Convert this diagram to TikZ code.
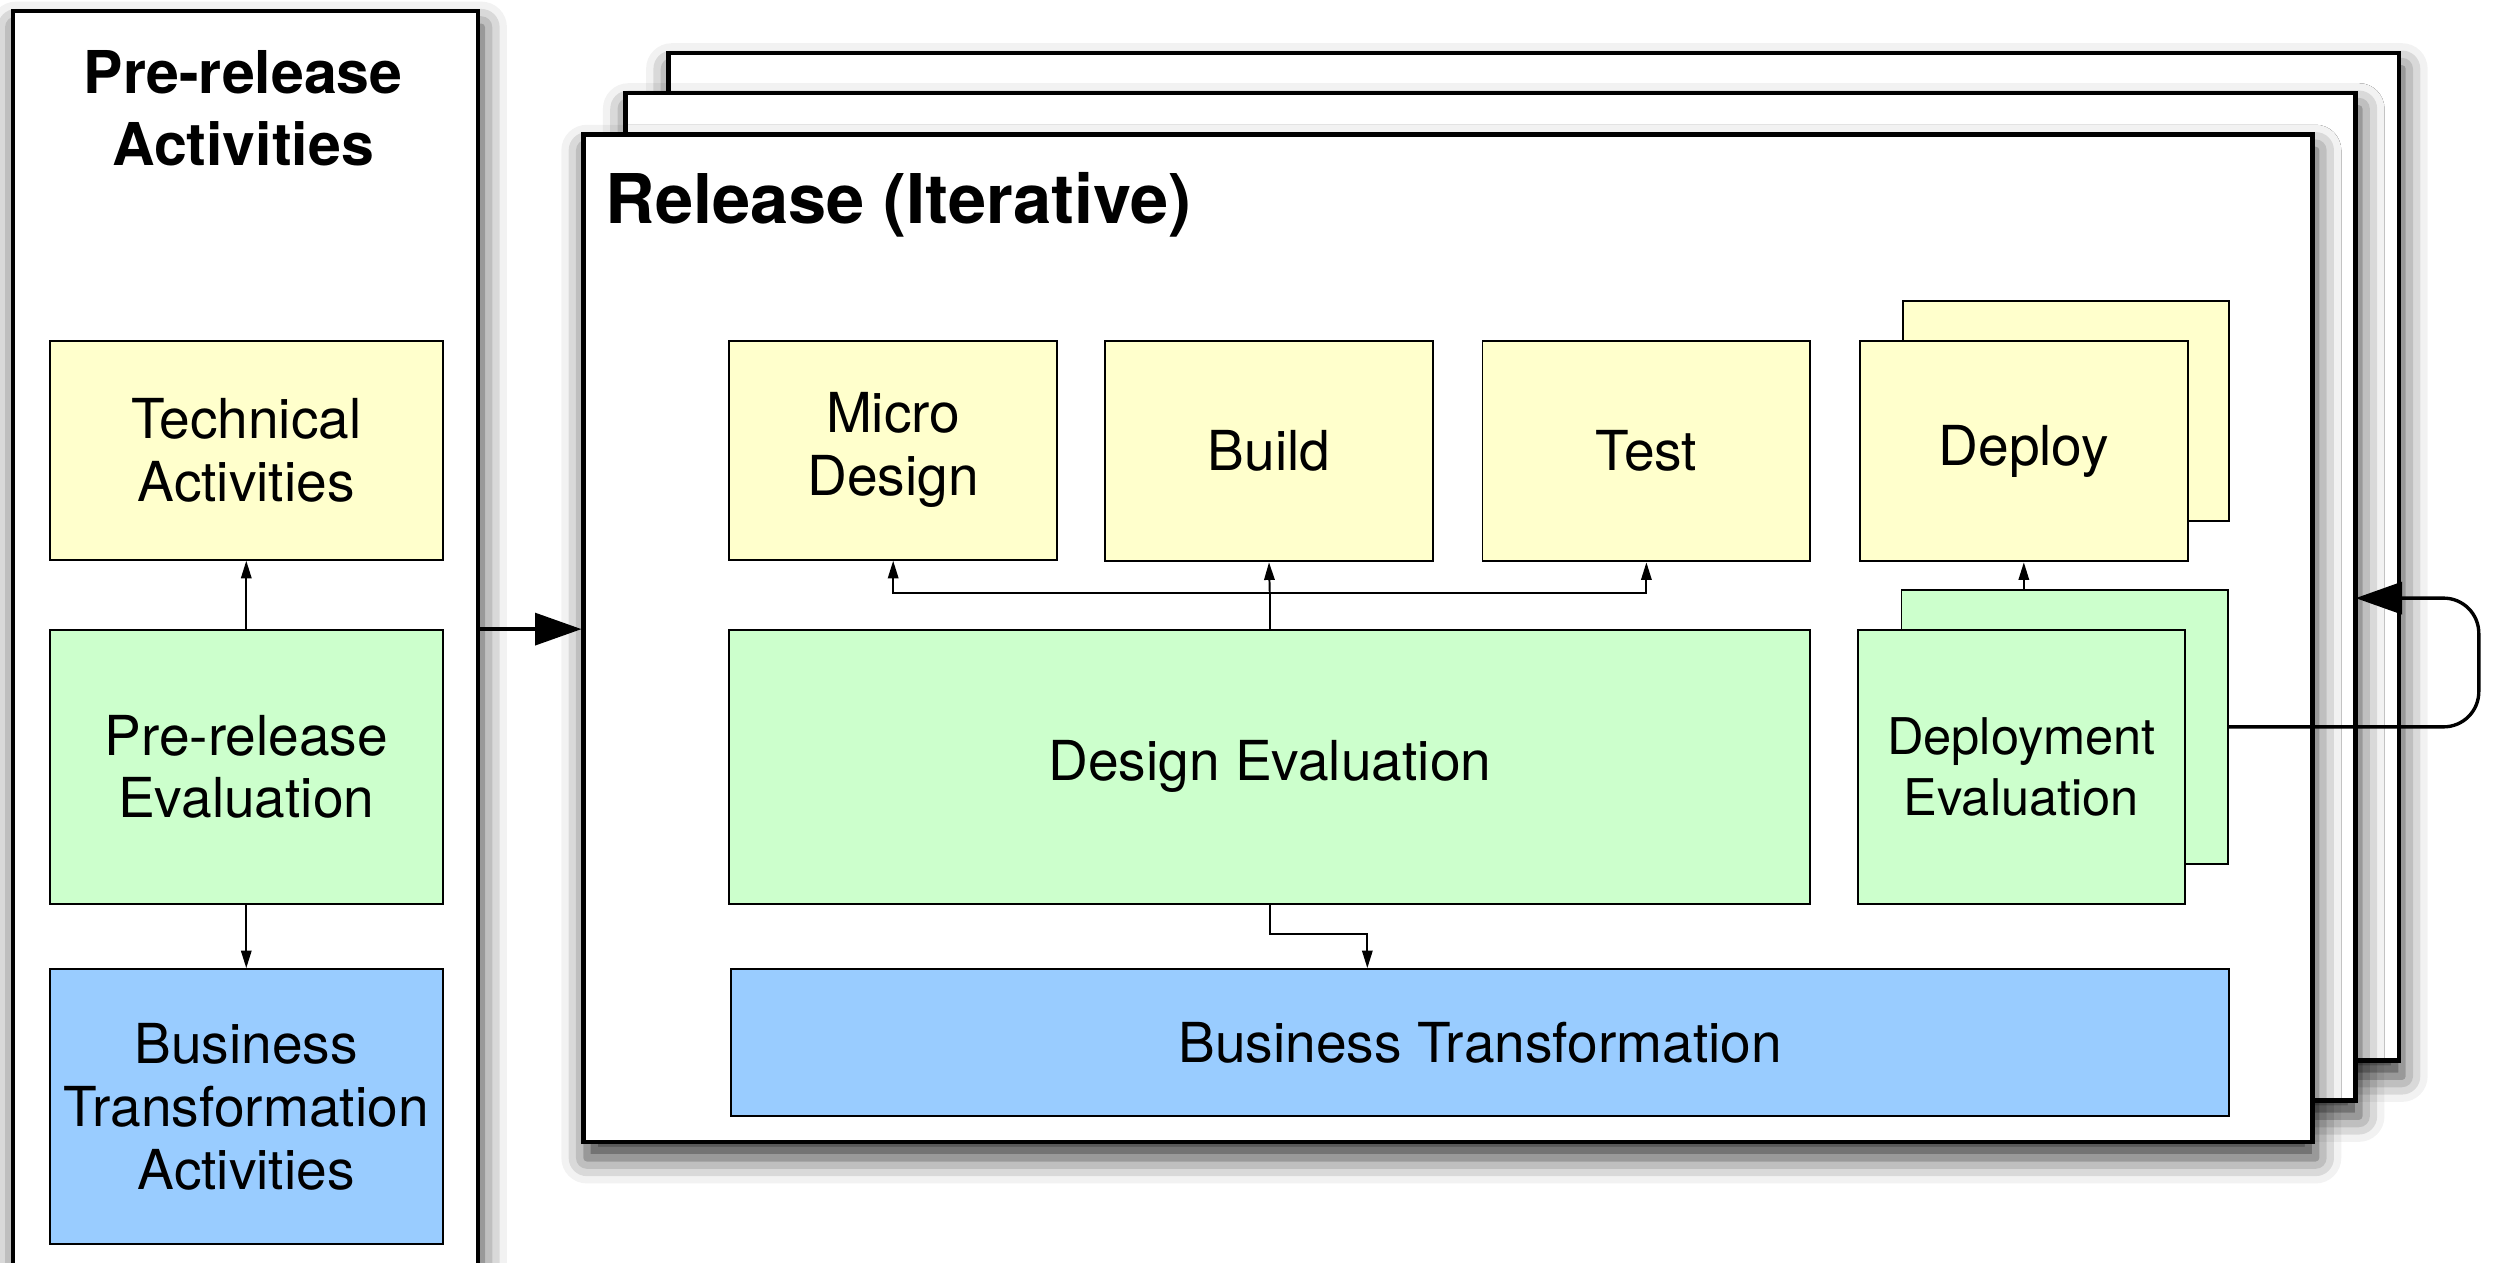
\documentclass[tikz,border=0pt]{standalone}
\usepackage{fontspec}
\setmainfont{TeX Gyre Heros}
\usetikzlibrary{arrows.meta,shadows.blur}

\definecolor{techyellow}{HTML}{FFFFCC}
\definecolor{evalgreen}{HTML}{CCFFCC}
\definecolor{busblue}{HTML}{99CCFF}

\tikzset{
  box/.style={draw, line width=0.35pt, inner sep=0pt, align=center,
    font=\fontsize{9.8}{11.2}\selectfont},
  ybox/.style={box, fill=techyellow},
  gbox/.style={box, fill=evalgreen},
  bbox/.style={box, fill=busblue},
  frame/.style={draw, fill=white, line width=0.8pt, inner sep=0pt,
    blur shadow={shadow xshift=0.2mm, shadow yshift=-1mm,
      shadow blur radius=1.6mm, shadow opacity=80}},
  thin arrow/.style={-{Triangle[length=1.1mm,width=0.65mm]}, line width=0.35pt},
  thick arrow/.style={-{Triangle[length=2.9mm,width=2mm]}, line width=0.6pt},
}

\begin{document}
\begin{tikzpicture}[x=1mm,y=-1mm]
\useasboundingbox (0,0) rectangle (156.7,78.92);
\clip (0,0) rectangle (156.7,78.92);

% pre-release column
\node[frame, minimum width=29.1mm, minimum height=89.3mm] (prepanel) at (15.35,45.35) {};
\node[font=\bfseries\fontsize{10.5}{12.8}\selectfont, align=center] (pretitle) at (15.2,6.75) {Pre-release\\Activities};
\node[ybox, minimum width=24.6mm, minimum height=13.7mm] (tech) at (15.4,28.15) {Technical\\Activities};
\node[gbox, minimum width=24.6mm, minimum height=17.1mm] (preeval) at (15.4,47.95) {Pre-release\\Evaluation};
\node[bbox, minimum width=24.6mm, minimum height=17.2mm] (bta) at (15.4,69.2) {Business\\Transformation\\Activities};
\draw[thin arrow] (preeval.north) -- (tech.south);
\draw[thin arrow] (preeval.south) -- (bta.north);

% release frames, stacked
\node[frame, minimum width=108.2mm, minimum height=63mm] (relback) at (95.9,34.8) {};
\node[frame, minimum width=108.2mm, minimum height=63mm] (relmid) at (93.2,37.3) {};
\node[frame, minimum width=108.1mm, minimum height=63mm] (relfront) at (90.55,39.9) {};
\node[anchor=west, inner sep=0pt, font=\bfseries\fontsize{12.2}{14}\selectfont] (reltitle) at (37.8,12.8) {Release (Iterative)};

\draw[thick arrow] (prepanel.east |- preeval.north) -- (relfront.west |- preeval.north);

% release activities
\node[ybox, minimum width=20.5mm, minimum height=13.7mm] (micro) at (55.85,28.15) {Micro\\Design};
\node[ybox, minimum width=20.5mm, minimum height=13.8mm] (build) at (79.35,28.2) {Build};
\node[ybox, minimum width=20.5mm, minimum height=13.8mm] (test) at (102.95,28.2) {Test};
\node[ybox, minimum width=20.4mm, minimum height=13.8mm] (deployback) at (129.2,25.7) {};
\node[ybox, minimum width=20.5mm, minimum height=13.8mm] (deploy) at (126.55,28.2) {Deploy};

\node[gbox, minimum width=67.6mm, minimum height=17.1mm] (deseval) at (79.4,47.95) {Design Evaluation};
\node[gbox, minimum width=20.4mm, minimum height=17.1mm] (depevalback) at (129.1,45.45) {};
\node[gbox, minimum width=20.4mm, minimum height=17.1mm, font=\fontsize{9}{10.8}\selectfont] (depeval) at (126.4,47.95) {Deployment\\Evaluation};

\node[bbox, minimum width=93.7mm, minimum height=9.2mm] (bt) at (92.55,65.2) {Business Transformation};

% connectors
\coordinate (branch) at (79.4,37.1);
\draw[line width=0.35pt] (deseval.north) -- (branch);
\draw[thin arrow] (branch) -- (build.south);
\draw[thin arrow] (branch) -| (micro.south);
\draw[thin arrow] (branch) -| (test.south);

\coordinate (bend) at (85.5,58.4);
\draw[thin arrow] (deseval.south) |- (bend) -- (bend |- bt.north);

\draw[thin arrow] (depevalback.north -| deploy) -- (deploy.south);

% next iteration
\coordinate (loopin) at (147.3,37.4);
\draw[thick arrow, rounded corners=2.2mm] (depevalback.east) -- (155,45.45) -- (155,37.4) -- (loopin);
\end{tikzpicture}
\end{document}
